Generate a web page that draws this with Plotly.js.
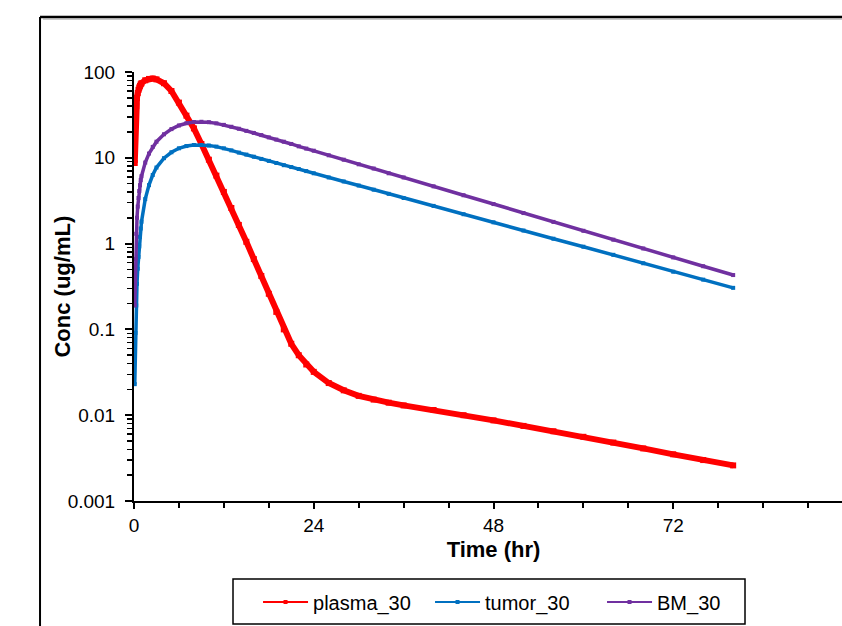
<!DOCTYPE html>
<html>
<head>
<meta charset="utf-8">
<script src="https://cdn.plot.ly/plotly-3.0.1.min.js"></script>
<style>
html, body { margin: 0; padding: 0; overflow: hidden; background: #fff; }
#chart { width: 870px; height: 626px; }
</style>
</head>
<body>
<div id="chart"></div>
<script>
// Time points (hr)
const timeHr = [0.1,0.2,0.3,0.4,0.5,0.6,0.7,0.8,0.9,1.0,
  1.5,2,2.5,3,4,5,6,7,8,9,10,11,12,13,14,15,16,17,18,19,20,21,22,23,24,
  26,28,30,32,34,36,40,44,48,52,56,60,64,68,72,76,80];

// Concentrations (ug/mL)
const plasma30 = [8.7,25,40,50,57,62,66,69,72,74,
  80,83,84,82,74,60,44,31,22,14.5,9.5,6.2,4.0,2.6,1.65,1.05,0.66,0.42,0.26,0.16,0.1,0.068,0.05,0.039,0.032,
  0.0237,0.0195,0.0168,0.0152,0.014,0.013,0.0115,0.0100,0.0087,0.0075,0.0065,0.0056,0.0048,0.0041,0.0035,0.0030,0.0026];

const tumor30 = [0.023,0.091,0.19,0.34,0.51,0.70,0.93,1.2,1.5,1.8,
  3.3,4.8,6.3,7.7,9.9,11.6,12.9,13.7,14.1,14.1,13.9,13.5,12.9,12.2,11.5,10.9,10.3,9.7,9.2,8.7,8.2,7.8,7.4,7.0,6.6,
  5.9,5.3,4.75,4.25,3.8,3.4,2.75,2.2,1.77,1.42,1.14,0.92,0.74,0.59,0.47,0.38,0.305];

const bm30 = [0.19,0.66,1.3,2.0,2.7,3.4,4.1,4.8,5.5,6.1,
  8.8,11.2,13.4,15.4,18.8,21.6,23.8,25.3,26.1,26.3,26.0,25.2,24.2,23.0,21.8,20.6,19.5,18.4,17.3,16.3,15.4,14.5,13.6,12.8,12.1,
  10.7,9.5,8.4,7.5,6.6,5.9,4.65,3.66,2.89,2.27,1.79,1.41,1.11,0.877,0.69,0.545,0.43];

const seriesNames = ['plasma_30', 'tumor_30', 'BM_30'];
const seriesColors = ['#FF0000', '#0070C0', '#7030A0'];
const seriesValues = [plasma30, tumor30, bm30];
const lineWidths = [6, 3.5, 3.5];
const markerSizes = [6, 4, 4];

const xTickVals = [0, 24, 48, 72];
const xTickText = ['0', '24', '48', '72'];
const yTickVals = [0.001, 0.01, 0.1, 1, 10, 100];
const yTickText = ['0.001', '0.01', '0.1', '1', '10', '100'];

const yMinor = [];
for (let e = -3; e < 2; e++) {
  for (let d = 2; d <= 9; d++) yMinor.push(d * Math.pow(10, e));
}

const FONT = 'Liberation Sans, Arial, sans-serif';

const traces = [];
seriesNames.forEach((nm, i) => {
  traces.push({x: timeHr, y: seriesValues[i], name: nm, mode: 'lines+markers', showlegend: false,
    legendgroup: nm,
    line: {color: seriesColors[i], width: lineWidths[i]},
    marker: {symbol: 'square', size: markerSizes[i], color: seriesColors[i]}});
});
// legend entries (thin line with small marker, as in the original legend)
seriesNames.forEach((nm, i) => {
  traces.push({x: [null], y: [null], name: nm, mode: 'lines+markers', showlegend: true,
    legendgroup: nm,
    line: {color: seriesColors[i], width: 2},
    marker: {symbol: 'square', size: 4, color: seriesColors[i]}});
});

const layout = {
  width: 870, height: 626,
  margin: {l: 134, r: 17, t: 72, b: 125, autoexpand: false},
  paper_bgcolor: '#ffffff', plot_bgcolor: '#ffffff',
  font: {family: FONT, size: 18, color: '#000'},
  showlegend: true,
  legend: {
    orientation: 'h', x: 0.1725, y: -0.2354, xanchor: 'left', yanchor: 'middle',
    borderwidth: 0, font: {family: FONT, size: 20, color: '#000'},
    itemwidth: 45, entrywidth: 112, entrywidthmode: 'pixels', bgcolor: 'rgba(0,0,0,0)',
    traceorder: 'normal'
  },
  xaxis: {
    range: [0, 96], showgrid: false, zeroline: false,
    showline: true, linecolor: '#000', linewidth: 2,
    tickmode: 'array', tickvals: xTickVals, ticktext: xTickText,
    ticks: 'outside', ticklen: 6, tickwidth: 2, tickcolor: '#000',
    tickfont: {family: FONT, size: 19, color: '#000'},
    minor: {dtick: 6, tick0: 0, ticks: 'outside', ticklen: 5, tickwidth: 2, tickcolor: '#000', showgrid: false},
    title: {text: '<b>Time (hr)</b>', font: {family: FONT, size: 22, color: '#000'}, standoff: 7}
  },
  yaxis: {
    type: 'log', range: [-3, 2], showgrid: false, zeroline: false,
    showline: true, linecolor: '#000', linewidth: 2,
    tickmode: 'array', tickvals: yTickVals, ticktext: yTickText,
    ticks: 'outside', ticklen: 7, tickwidth: 2, tickcolor: '#000', ticklabelstandoff: 6,
    tickfont: {family: FONT, size: 19, color: '#000'},
    minor: {tickmode: 'array', tickvals: yMinor, ticks: 'outside', ticklen: 5, tickwidth: 1.5, tickcolor: '#000', showgrid: false}
  },
  annotations: [
    {text: '<b>Conc (ug/mL)</b>', xref: 'paper', yref: 'paper', x: -0.1001, y: 0.5, textangle: -90,
     showarrow: false, xanchor: 'center', yanchor: 'middle', font: {family: FONT, size: 22, color: '#000'}}
  ],
  shapes: [
    {type: 'line', xref: 'paper', yref: 'paper', x0: -0.1307, x1: 1.05, y0: 1.128, y1: 1.128,
     line: {color: '#000', width: 2.5}},
    {type: 'line', xref: 'paper', yref: 'paper', x0: -0.1265, x1: 1.05, y0: 1.1235, y1: 1.1235,
     line: {color: '#999', width: 1}},
    {type: 'line', xref: 'paper', yref: 'paper', x0: -0.1307, x1: -0.1307, y0: 1.128, y1: -0.35,
     line: {color: '#000', width: 2}},
    {type: 'rect', xref: 'paper', yref: 'paper', x0: 0.1377, x1: 0.8498, y0: -0.1818, y1: -0.287,
     line: {color: '#000', width: 1.5}, fillcolor: 'rgba(0,0,0,0)'}
  ]
};

Plotly.newPlot('chart', traces, layout, {staticPlot: true, displayModeBar: false});
</script>
</body>
</html>
